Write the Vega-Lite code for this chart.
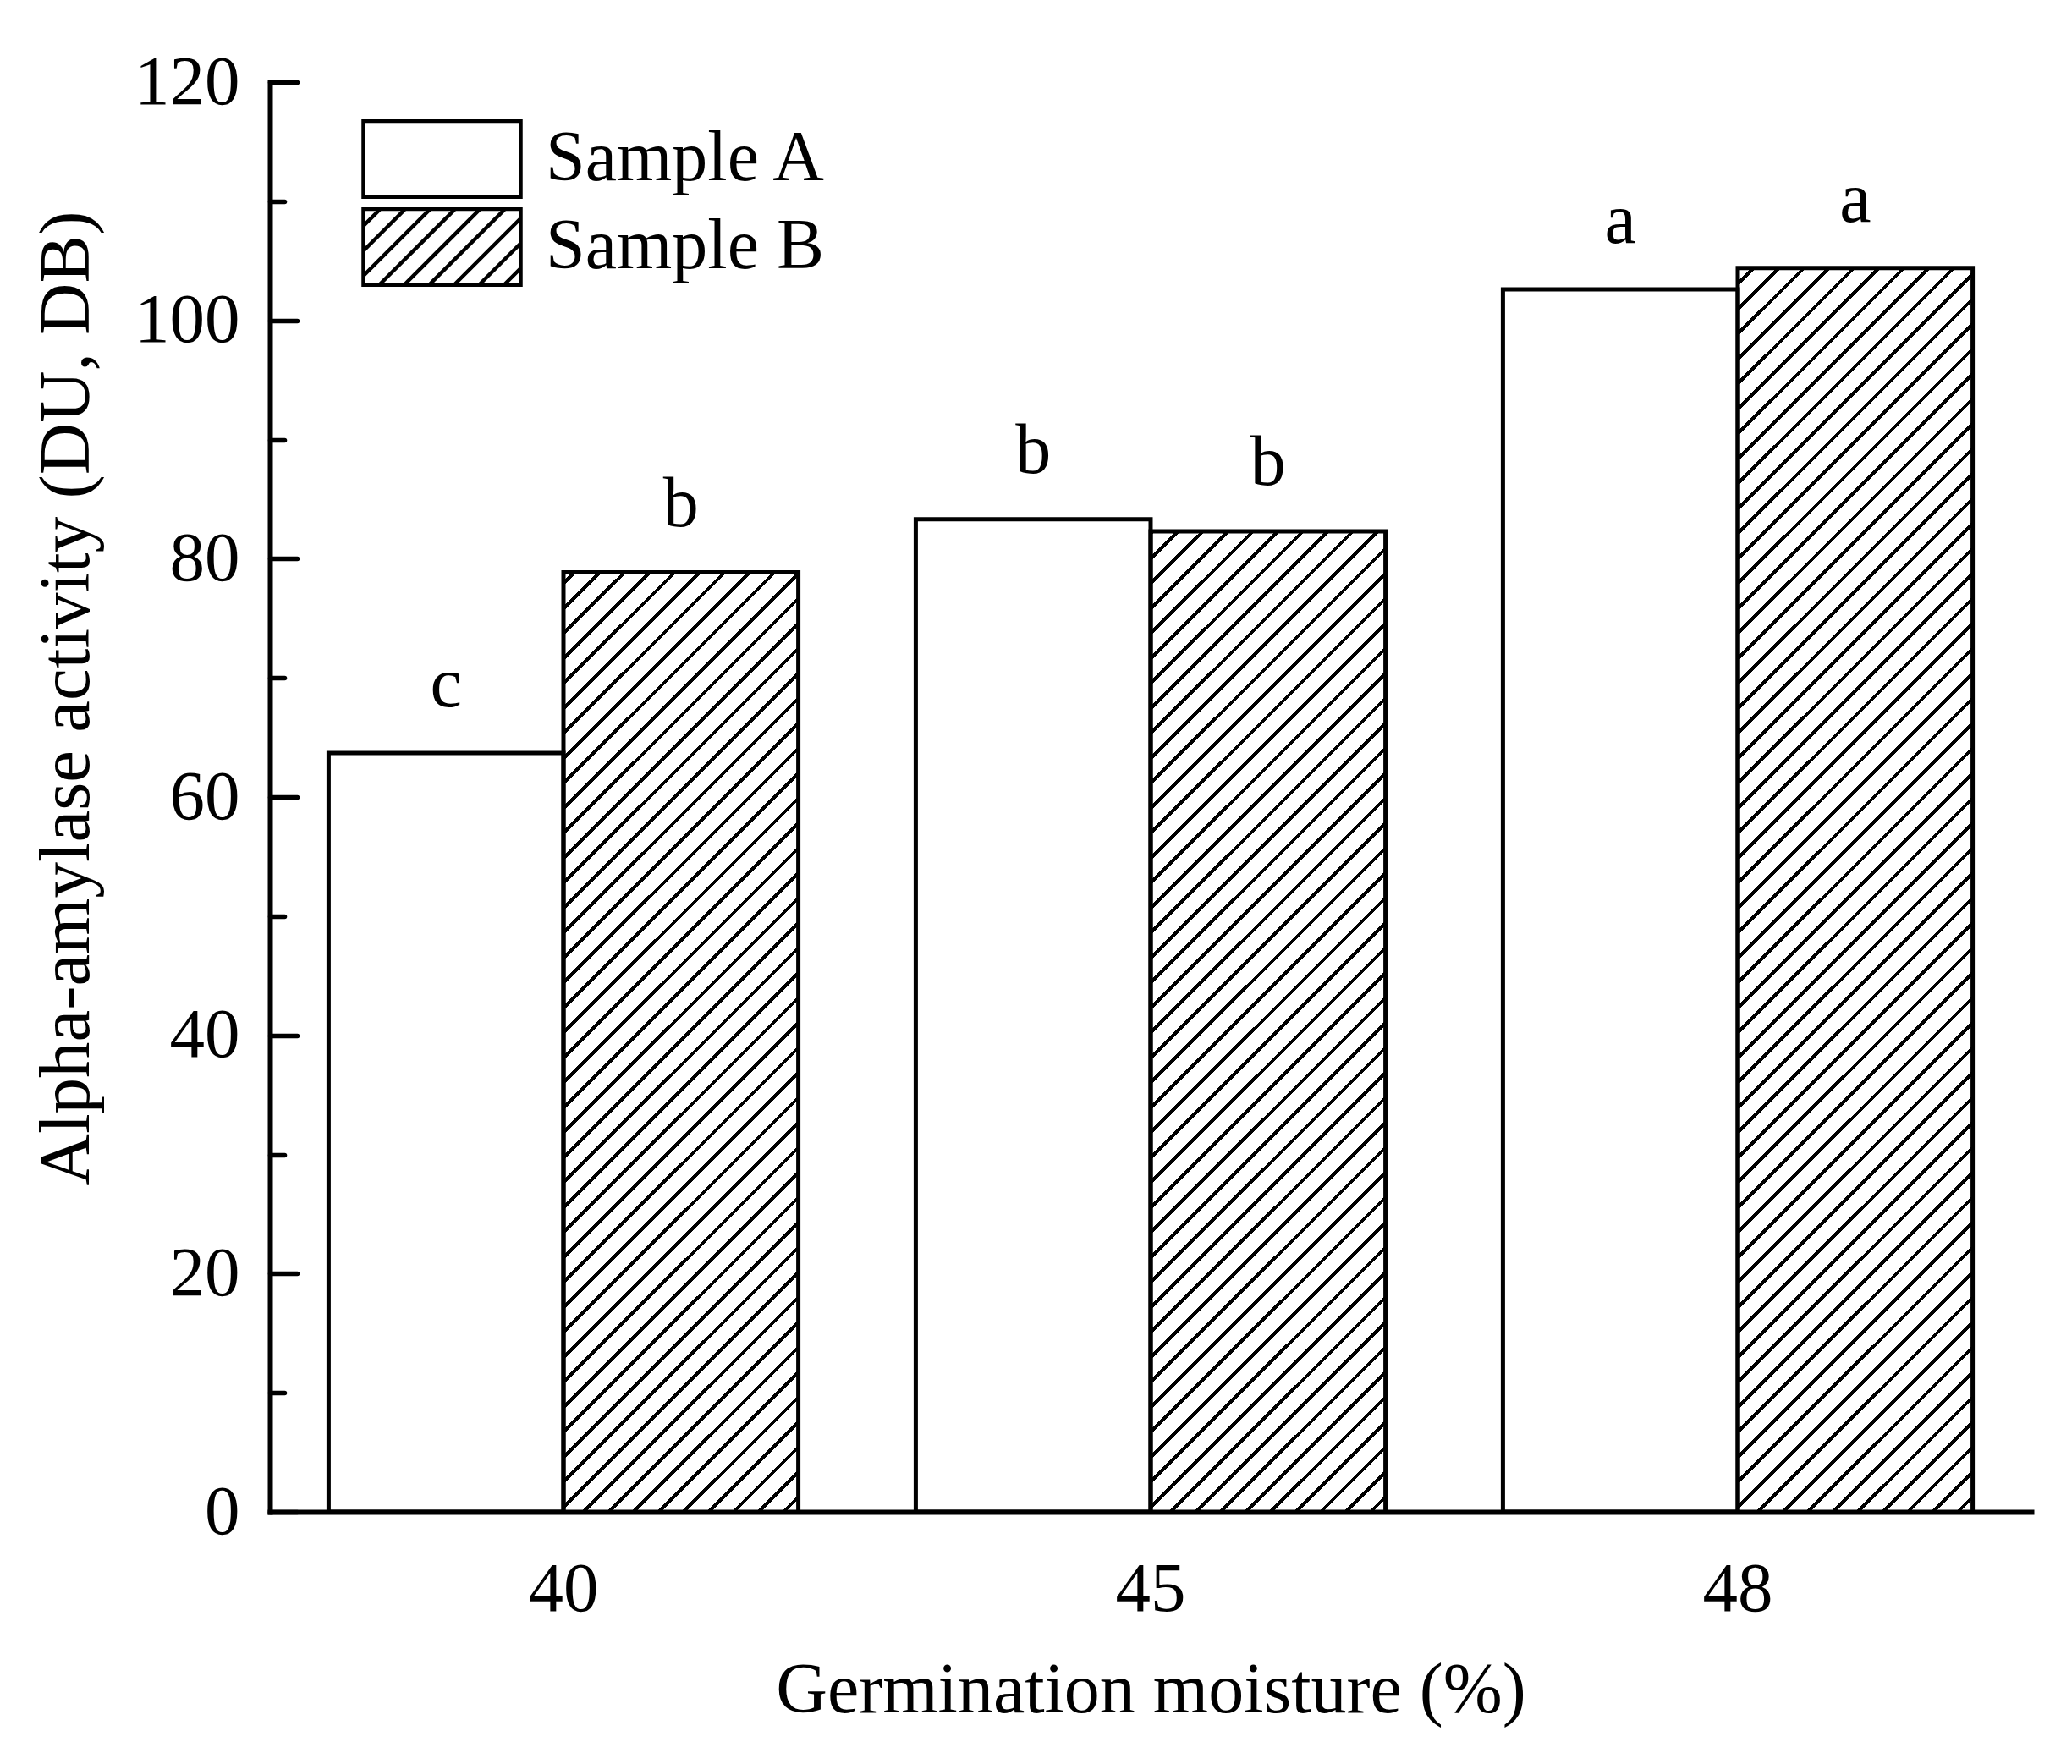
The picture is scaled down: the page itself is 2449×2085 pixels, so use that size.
{
"$schema": "https://vega.github.io/schema/vega-lite/v6.json",
"width": 2082,
"height": 1690,
"autosize": {"type": "none"},
"padding": {"left": 319, "top": 97, "right": 48, "bottom": 298},
"background": "white",
"config": {"view": {"stroke": null}, "font": "Liberation Serif"},
"data": {"values": [
{"moisture": "40", "sample": "Sample A", "activity": 63.7, "letter": "c"},
{"moisture": "40", "sample": "Sample B", "activity": 78.85, "letter": "b"},
{"moisture": "45", "sample": "Sample A", "activity": 83.3, "letter": "b"},
{"moisture": "45", "sample": "Sample B", "activity": 82.3, "letter": "b"},
{"moisture": "48", "sample": "Sample A", "activity": 102.6, "letter": "a"},
{"moisture": "48", "sample": "Sample B", "activity": 104.4, "letter": "a"}
]},
"encoding": {
"x": {"field": "moisture", "type": "nominal", "sort": ["40", "45", "48"],
"scale": {"paddingInner": 0.2, "paddingOuter": 0.1},
"axis": {"title": "Germination moisture (%)", "labelAngle": 0, "labelFont": "Liberation Serif", "labelFontSize": 83, "labelColor": "black", "labelPadding": 116, "labelBaseline": "alphabetic", "ticks": false, "tickSize": 0, "domainColor": "black", "domainWidth": 6, "domainCap": "square", "grid": false, "titleFont": "Liberation Serif", "titleFontSize": 84, "titleFontWeight": "normal", "titleColor": "black", "titleX": 1041, "titleY": 236, "titleBaseline": "alphabetic", "titleAlign": "center"}},
"xOffset": {"field": "sample", "type": "nominal", "sort": ["Sample A", "Sample B"], "scale": {"paddingInner": 0, "paddingOuter": 0}}
},
"layer": [
{"mark": {"type": "point", "size": 1, "opacity": 0, "filled": false, "color": "black", "strokeWidth": 4.5},
"encoding": {
"y": {"datum": 0, "type": "quantitative", "title": "Alpha-amylase activity (DU, DB)", "scale": {"domain": [0, 120], "nice": false}},
"shape": {"field": "sample", "type": "nominal", "sort": ["Sample A", "Sample B"],
"scale": {"range": ["M-1,-0.4839H1V0.4839H-1Z", "M-1,-0.4839H1V0.4839H-1Z M-0.4839,0.4839L0.4839,-0.4839 M-0.1667,0.4839L0.8011,-0.4839 M0.1505,0.4839L1,-0.3656 M0.4677,0.4839L1,-0.0484 M0.7849,0.4839L1,0.2688 M-0.8011,0.4839L0.1667,-0.4839 M-1,0.3656L-0.1505,-0.4839 M-1,0.0484L-0.4677,-0.4839 M-1,-0.2688L-0.7849,-0.4839"]},
"legend": {"title": null, "orient": "none", "legendX": 108, "legendY": 44, "padding": 0, "offset": 0, "direction": "vertical",
"symbolSize": 34596, "symbolStrokeWidth": 4.5, "symbolStrokeColor": "black", "symbolOpacity": 1, "symbolOffset": 0, "clipHeight": 94,
"labelFont": "Liberation Serif", "labelFontSize": 84, "labelColor": "black", "labelOffset": 27, "labelLimit": 0, "rowPadding": 10}}
}},
{"transform": [{"filter": "datum.sample === 'Sample B'"}],
"mark": {"type": "bar", "strokeWidth": 0, "fill": {"gradient": "linear", "x1": 0, "y1": 0, "x2": 0.22335, "y2": 1.35976, "stops": [
{"offset":0.0875,"color":"#fff"},{"offset":0.0875,"color":"#000"},{"offset":0.09,"color":"#000"},{"offset":0.09,"color":"#fff"},
{"offset":0.1,"color":"#fff"},{"offset":0.1,"color":"#000"},{"offset":0.1025,"color":"#000"},{"offset":0.1025,"color":"#fff"},
{"offset":0.1125,"color":"#fff"},{"offset":0.1125,"color":"#000"},{"offset":0.115,"color":"#000"},{"offset":0.115,"color":"#fff"},
{"offset":0.125,"color":"#fff"},{"offset":0.125,"color":"#000"},{"offset":0.1275,"color":"#000"},{"offset":0.1275,"color":"#fff"},
{"offset":0.1375,"color":"#fff"},{"offset":0.1375,"color":"#000"},{"offset":0.14,"color":"#000"},{"offset":0.14,"color":"#fff"},
{"offset":0.15,"color":"#fff"},{"offset":0.15,"color":"#000"},{"offset":0.1525,"color":"#000"},{"offset":0.1525,"color":"#fff"},
{"offset":0.1625,"color":"#fff"},{"offset":0.1625,"color":"#000"},{"offset":0.165,"color":"#000"},{"offset":0.165,"color":"#fff"},
{"offset":0.175,"color":"#fff"},{"offset":0.175,"color":"#000"},{"offset":0.1775,"color":"#000"},{"offset":0.1775,"color":"#fff"},
{"offset":0.1875,"color":"#fff"},{"offset":0.1875,"color":"#000"},{"offset":0.19,"color":"#000"},{"offset":0.19,"color":"#fff"},
{"offset":0.2,"color":"#fff"},{"offset":0.2,"color":"#000"},{"offset":0.2025,"color":"#000"},{"offset":0.2025,"color":"#fff"},
{"offset":0.2125,"color":"#fff"},{"offset":0.2125,"color":"#000"},{"offset":0.215,"color":"#000"},{"offset":0.215,"color":"#fff"},
{"offset":0.225,"color":"#fff"},{"offset":0.225,"color":"#000"},{"offset":0.2275,"color":"#000"},{"offset":0.2275,"color":"#fff"},
{"offset":0.2375,"color":"#fff"},{"offset":0.2375,"color":"#000"},{"offset":0.24,"color":"#000"},{"offset":0.24,"color":"#fff"},
{"offset":0.25,"color":"#fff"},{"offset":0.25,"color":"#000"},{"offset":0.2525,"color":"#000"},{"offset":0.2525,"color":"#fff"},
{"offset":0.2625,"color":"#fff"},{"offset":0.2625,"color":"#000"},{"offset":0.265,"color":"#000"},{"offset":0.265,"color":"#fff"},
{"offset":0.275,"color":"#fff"},{"offset":0.275,"color":"#000"},{"offset":0.2775,"color":"#000"},{"offset":0.2775,"color":"#fff"},
{"offset":0.2875,"color":"#fff"},{"offset":0.2875,"color":"#000"},{"offset":0.29,"color":"#000"},{"offset":0.29,"color":"#fff"},
{"offset":0.3,"color":"#fff"},{"offset":0.3,"color":"#000"},{"offset":0.3025,"color":"#000"},{"offset":0.3025,"color":"#fff"},
{"offset":0.3125,"color":"#fff"},{"offset":0.3125,"color":"#000"},{"offset":0.315,"color":"#000"},{"offset":0.315,"color":"#fff"},
{"offset":0.325,"color":"#fff"},{"offset":0.325,"color":"#000"},{"offset":0.3275,"color":"#000"},{"offset":0.3275,"color":"#fff"},
{"offset":0.3375,"color":"#fff"},{"offset":0.3375,"color":"#000"},{"offset":0.34,"color":"#000"},{"offset":0.34,"color":"#fff"},
{"offset":0.35,"color":"#fff"},{"offset":0.35,"color":"#000"},{"offset":0.3525,"color":"#000"},{"offset":0.3525,"color":"#fff"},
{"offset":0.3625,"color":"#fff"},{"offset":0.3625,"color":"#000"},{"offset":0.365,"color":"#000"},{"offset":0.365,"color":"#fff"},
{"offset":0.375,"color":"#fff"},{"offset":0.375,"color":"#000"},{"offset":0.3775,"color":"#000"},{"offset":0.3775,"color":"#fff"},
{"offset":0.3875,"color":"#fff"},{"offset":0.3875,"color":"#000"},{"offset":0.39,"color":"#000"},{"offset":0.39,"color":"#fff"},
{"offset":0.4,"color":"#fff"},{"offset":0.4,"color":"#000"},{"offset":0.4025,"color":"#000"},{"offset":0.4025,"color":"#fff"},
{"offset":0.4125,"color":"#fff"},{"offset":0.4125,"color":"#000"},{"offset":0.415,"color":"#000"},{"offset":0.415,"color":"#fff"},
{"offset":0.425,"color":"#fff"},{"offset":0.425,"color":"#000"},{"offset":0.4275,"color":"#000"},{"offset":0.4275,"color":"#fff"},
{"offset":0.4375,"color":"#fff"},{"offset":0.4375,"color":"#000"},{"offset":0.44,"color":"#000"},{"offset":0.44,"color":"#fff"},
{"offset":0.45,"color":"#fff"},{"offset":0.45,"color":"#000"},{"offset":0.4525,"color":"#000"},{"offset":0.4525,"color":"#fff"},
{"offset":0.4625,"color":"#fff"},{"offset":0.4625,"color":"#000"},{"offset":0.465,"color":"#000"},{"offset":0.465,"color":"#fff"},
{"offset":0.475,"color":"#fff"},{"offset":0.475,"color":"#000"},{"offset":0.4775,"color":"#000"},{"offset":0.4775,"color":"#fff"},
{"offset":0.4875,"color":"#fff"},{"offset":0.4875,"color":"#000"},{"offset":0.49,"color":"#000"},{"offset":0.49,"color":"#fff"},
{"offset":0.5,"color":"#fff"},{"offset":0.5,"color":"#000"},{"offset":0.5025,"color":"#000"},{"offset":0.5025,"color":"#fff"},
{"offset":0.5125,"color":"#fff"},{"offset":0.5125,"color":"#000"},{"offset":0.515,"color":"#000"},{"offset":0.515,"color":"#fff"},
{"offset":0.525,"color":"#fff"},{"offset":0.525,"color":"#000"},{"offset":0.5275,"color":"#000"},{"offset":0.5275,"color":"#fff"},
{"offset":0.5375,"color":"#fff"},{"offset":0.5375,"color":"#000"},{"offset":0.54,"color":"#000"},{"offset":0.54,"color":"#fff"},
{"offset":0.55,"color":"#fff"},{"offset":0.55,"color":"#000"},{"offset":0.5525,"color":"#000"},{"offset":0.5525,"color":"#fff"},
{"offset":0.5625,"color":"#fff"},{"offset":0.5625,"color":"#000"},{"offset":0.565,"color":"#000"},{"offset":0.565,"color":"#fff"},
{"offset":0.575,"color":"#fff"},{"offset":0.575,"color":"#000"},{"offset":0.5775,"color":"#000"},{"offset":0.5775,"color":"#fff"},
{"offset":0.5875,"color":"#fff"},{"offset":0.5875,"color":"#000"},{"offset":0.59,"color":"#000"},{"offset":0.59,"color":"#fff"},
{"offset":0.6,"color":"#fff"},{"offset":0.6,"color":"#000"},{"offset":0.6025,"color":"#000"},{"offset":0.6025,"color":"#fff"},
{"offset":0.6125,"color":"#fff"},{"offset":0.6125,"color":"#000"},{"offset":0.615,"color":"#000"},{"offset":0.615,"color":"#fff"},
{"offset":0.625,"color":"#fff"},{"offset":0.625,"color":"#000"},{"offset":0.6275,"color":"#000"},{"offset":0.6275,"color":"#fff"},
{"offset":0.6375,"color":"#fff"},{"offset":0.6375,"color":"#000"},{"offset":0.64,"color":"#000"},{"offset":0.64,"color":"#fff"},
{"offset":0.65,"color":"#fff"},{"offset":0.65,"color":"#000"},{"offset":0.6525,"color":"#000"},{"offset":0.6525,"color":"#fff"},
{"offset":0.6625,"color":"#fff"},{"offset":0.6625,"color":"#000"},{"offset":0.665,"color":"#000"},{"offset":0.665,"color":"#fff"},
{"offset":0.675,"color":"#fff"},{"offset":0.675,"color":"#000"},{"offset":0.6775,"color":"#000"},{"offset":0.6775,"color":"#fff"},
{"offset":0.6875,"color":"#fff"},{"offset":0.6875,"color":"#000"},{"offset":0.69,"color":"#000"},{"offset":0.69,"color":"#fff"},
{"offset":0.7,"color":"#fff"},{"offset":0.7,"color":"#000"},{"offset":0.7025,"color":"#000"},{"offset":0.7025,"color":"#fff"},
{"offset":0.7125,"color":"#fff"},{"offset":0.7125,"color":"#000"},{"offset":0.715,"color":"#000"},{"offset":0.715,"color":"#fff"},
{"offset":0.725,"color":"#fff"},{"offset":0.725,"color":"#000"},{"offset":0.7275,"color":"#000"},{"offset":0.7275,"color":"#fff"},
{"offset":0.7375,"color":"#fff"},{"offset":0.7375,"color":"#000"},{"offset":0.74,"color":"#000"},{"offset":0.74,"color":"#fff"},
{"offset":0.75,"color":"#fff"},{"offset":0.75,"color":"#000"},{"offset":0.7525,"color":"#000"},{"offset":0.7525,"color":"#fff"},
{"offset":0.7625,"color":"#fff"},{"offset":0.7625,"color":"#000"},{"offset":0.765,"color":"#000"},{"offset":0.765,"color":"#fff"},
{"offset":0.775,"color":"#fff"},{"offset":0.775,"color":"#000"},{"offset":0.7775,"color":"#000"},{"offset":0.7775,"color":"#fff"},
{"offset":0.7875,"color":"#fff"},{"offset":0.7875,"color":"#000"},{"offset":0.79,"color":"#000"},{"offset":0.79,"color":"#fff"},
{"offset":0.8,"color":"#fff"},{"offset":0.8,"color":"#000"},{"offset":0.8025,"color":"#000"},{"offset":0.8025,"color":"#fff"},
{"offset":0.8125,"color":"#fff"},{"offset":0.8125,"color":"#000"},{"offset":0.815,"color":"#000"},{"offset":0.815,"color":"#fff"},
{"offset":0.825,"color":"#fff"},{"offset":0.825,"color":"#000"},{"offset":0.8275,"color":"#000"},{"offset":0.8275,"color":"#fff"}
]}},
"encoding": {
"y": {"datum": 120, "type": "quantitative", "title": "Alpha-amylase activity (DU, DB)", "scale": {"domain": [0, 120], "nice": false}},
"y2": {"datum": 0}
}},
{"transform": [{"filter": "datum.sample === 'Sample B'"}],
"mark": {"type": "bar", "fill": "white", "stroke": "white", "strokeWidth": 4},
"encoding": {
"y": {"field": "activity", "type": "quantitative", "title": "Alpha-amylase activity (DU, DB)", "scale": {"domain": [0, 120], "nice": false}},
"y2": {"datum": 120}
}},
{"mark": {"type": "bar", "fill": "transparent", "stroke": "black", "strokeWidth": 5},
"encoding": {
"y": {"field": "activity", "type": "quantitative", "title": "Alpha-amylase activity (DU, DB)", "scale": {"domain": [0, 120], "nice": false},
"axis": {"values": [0, 10, 20, 30, 40, 50, 60, 70, 80, 90, 100, 110, 120], "labelExpr": "datum.value % 20 === 0 ? datum.label : ''", "labelFont": "Liberation Serif", "labelFontSize": 83, "labelColor": "black", "labelPadding": 68, "labelFlush": false, "labelOverlap": false, "labelAlign": "right", "labelBaseline": "middle", "tickSize": {"condition": {"test": "datum.value % 20 === 0", "value": -32}, "value": -17}, "tickColor": "black", "tickWidth": 5.5, "tickCap": "round", "domainColor": "black", "domainWidth": 6, "domainCap": "square", "grid": false, "titleFont": "Liberation Serif", "titleFontSize": 85, "titleFontWeight": "normal", "titleColor": "black", "titleAngle": -90, "titleX": -215, "titleY": 728, "titleAlign": "center", "titleBaseline": "alphabetic"}}
}},
{"mark": {"type": "text", "font": "Liberation Serif", "fontSize": 84, "baseline": "alphabetic", "align": "center", "dy": -55, "color": "black"},
"encoding": {
"y": {"field": "activity", "type": "quantitative", "title": "Alpha-amylase activity (DU, DB)", "scale": {"domain": [0, 120], "nice": false}},
"text": {"field": "letter"}
}}
]
}
